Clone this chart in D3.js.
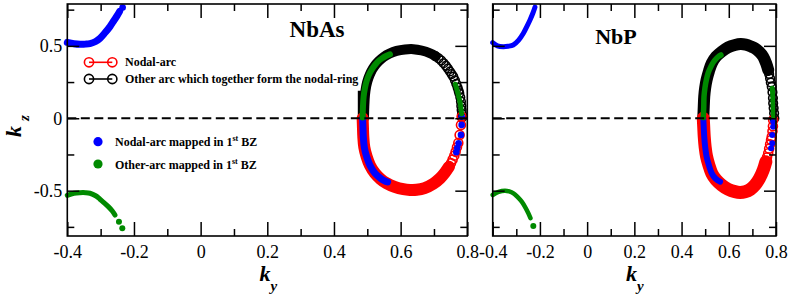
<!DOCTYPE html>
<html>
<head>
<meta charset="utf-8">
<script src="https://cdn.jsdelivr.net/npm/d3@7"></script>
<style>
  body { margin: 0; background: #fff; }
  svg { display: block; }
  svg text { font-family: "Liberation Serif", "Times New Roman", serif; }
</style>
</head>
<body>
<svg id="svg"></svg>
<script>
// ky, kz pairs

// tick values / labels
const xMajor = [-0.4, -0.2, 0, 0.2, 0.4, 0.6, 0.8];
const xMinor = [-0.3, -0.1, 0.1, 0.3, 0.5, 0.7];
const xTickLabels = ['-0.4', '-0.2', '0', '0.2', '0.4', '0.6', '0.8'];
const yMajor = [0.5, 0, -0.5];
const yMinor = [0.75, 0.25, -0.25, -0.75];
const yTickLabels = ['0.5', '0', '-0.5'];

// NbAs
const nbasBlackBand = [[0.490,0.0],[0.491,0.08],[0.493,0.16],[0.497,0.225],[0.503,0.275],[0.511,0.32],[0.521,0.358],[0.534,0.393],[0.549,0.423],[0.567,0.447],[0.588,0.465],[0.613,0.475],[0.638,0.477],[0.663,0.468],[0.688,0.449],[0.705,0.428]];
const nbasBlackOpen = [[0.705,0.428],[0.714,0.414],[0.722,0.398],[0.729,0.38],[0.736,0.362],[0.742,0.343],[0.748,0.323],[0.753,0.305],[0.758,0.287],[0.763,0.262],[0.767,0.238],[0.771,0.212],[0.774,0.19],[0.776,0.173],[0.779,0.145],[0.781,0.115],[0.782,0.085],[0.783,0.057],[0.784,0.03],[0.784,0.005]];
const nbasBlackStub = [[0.479,0.0],[0.479,0.19]];
const nbasRedBand = [[0.486,0.0],[0.487,-0.065],[0.488,-0.127],[0.491,-0.2],[0.498,-0.265],[0.508,-0.325],[0.523,-0.38],[0.540,-0.42],[0.558,-0.449],[0.582,-0.474],[0.608,-0.49],[0.628,-0.495],[0.648,-0.494],[0.672,-0.482],[0.698,-0.452],[0.718,-0.415],[0.733,-0.375],[0.745,-0.335]];
const nbasRedOpen = [[0.745,-0.335],[0.751,-0.31],[0.756,-0.285],[0.761,-0.258],[0.765,-0.232],[0.769,-0.2],[0.773,-0.17],[0.777,-0.115],[0.781,-0.046],[0.783,0.01]];
const nbasBlueBand = [[0.486,0.0],[0.487,-0.065],[0.488,-0.127],[0.491,-0.2],[0.498,-0.265],[0.508,-0.325],[0.523,-0.38],[0.540,-0.415],[0.552,-0.432],[0.561,-0.44]];
const nbasBlueDots = [[0.783,0.011],[0.783,-0.046],[0.781,-0.115],[0.774,-0.173],[0.770,-0.205],[0.767,-0.235]];
const nbasBlueCorner = [[-0.4,0.524],[-0.38,0.515],[-0.362,0.511],[-0.345,0.512],[-0.332,0.516],[-0.315,0.53],[-0.302,0.552],[-0.287,0.59],[-0.272,0.633],[-0.26,0.675],[-0.25,0.71],[-0.243,0.738]];
const nbasBlueEnd = [[-0.234,0.764]];
const nbasGreenBand = [[0.486,0.005],[0.487,0.08],[0.489,0.149],[0.493,0.21],[0.499,0.265],[0.508,0.315],[0.519,0.356],[0.531,0.39],[0.543,0.412],[0.556,0.43],[0.568,0.442]];
const nbasGreenRight = [[0.764,0.235],[0.768,0.205],[0.772,0.17],[0.776,0.135],[0.779,0.10],[0.781,0.065],[0.783,0.03]];
const nbasGreenCorner = [[-0.4,-0.532],[-0.38,-0.518],[-0.362,-0.514],[-0.345,-0.514],[-0.332,-0.518],[-0.315,-0.535],[-0.302,-0.559],[-0.29,-0.583],[-0.277,-0.61],[-0.265,-0.64],[-0.257,-0.668]];
const nbasGreenEnd = [[-0.245,-0.714],[-0.235,-0.760]];

// NbP
const nbpBlackBand = [[0.492,0.0],[0.494,0.08],[0.496,0.149],[0.500,0.21],[0.506,0.265],[0.516,0.325],[0.528,0.38],[0.546,0.425],[0.570,0.46],[0.597,0.49],[0.626,0.506],[0.650,0.512],[0.672,0.508],[0.695,0.495],[0.711,0.483],[0.730,0.458],[0.746,0.425],[0.758,0.38],[0.767,0.334]];
const nbpBlackOpen = [[0.767,0.334],[0.771,0.305],[0.775,0.275],[0.778,0.247],[0.782,0.218],[0.785,0.18],[0.787,0.14],[0.788,0.104],[0.790,0.07],[0.792,0.035],[0.793,0.0]];
const nbpRedBand = [[0.492,0.0],[0.494,-0.065],[0.496,-0.127],[0.500,-0.2],[0.506,-0.265],[0.516,-0.325],[0.528,-0.38],[0.546,-0.425],[0.570,-0.461],[0.597,-0.49],[0.626,-0.507],[0.648,-0.512],[0.669,-0.507],[0.692,-0.49],[0.711,-0.461],[0.730,-0.415],[0.746,-0.357],[0.757,-0.30]];
const nbpRedOpen = [[0.757,-0.30],[0.762,-0.27],[0.767,-0.242],[0.771,-0.21],[0.775,-0.18],[0.779,-0.15],[0.782,-0.127],[0.785,-0.09],[0.787,-0.055],[0.788,-0.012]];
const nbpBlueBand = [[0.492,0.0],[0.494,-0.065],[0.496,-0.127],[0.500,-0.2],[0.506,-0.265],[0.516,-0.325],[0.528,-0.38],[0.543,-0.415],[0.555,-0.43],[0.563,-0.438]];
const nbpBlueDots = [[0.788,-0.023],[0.788,-0.058],[0.784,-0.115],[0.784,-0.173],[0.779,-0.207]];
const nbpBlueCorner = [[-0.4,0.522],[-0.38,0.5],[-0.355,0.494],[-0.335,0.497],[-0.313,0.506],[-0.29,0.54],[-0.27,0.587],[-0.255,0.635],[-0.242,0.679],[-0.23,0.725],[-0.221,0.767]];
const nbpGreenBand = [[0.492,0.005],[0.494,0.08],[0.495,0.149],[0.499,0.21],[0.505,0.265],[0.513,0.315],[0.524,0.356],[0.536,0.39],[0.548,0.414],[0.558,0.428],[0.567,0.437]];
const nbpGreenRight = [[0.784,0.207],[0.786,0.17],[0.787,0.13],[0.788,0.09],[0.789,0.05],[0.790,0.01]];
const nbpGreenCorner = [[-0.4,-0.53],[-0.375,-0.508],[-0.348,-0.5],[-0.33,-0.505],[-0.312,-0.518],[-0.295,-0.543],[-0.277,-0.576],[-0.262,-0.615],[-0.249,-0.656],[-0.24,-0.69]];
const nbpGreenEnd = [[-0.228,-0.744]];

const width = 789;
const height = 300;
const RED = '#ff0000', BLACK = '#000000', BLUE = '#0000ff', GREEN = '#008a00';
const SERIF = '"Liberation Serif", "Times New Roman", serif';

const svg = d3.select('#svg')
  .attr('width', width)
  .attr('height', height);

// shared y scale
const yScale = d3.scaleLinear()
  .domain([-0.813, 0.789])
  .range([236, 4]);

const xLeft = d3.scaleLinear().domain([-0.4, 0.8]).range([67.3, 467.3]);
const xRight = d3.scaleLinear().domain([-0.4, 0.8]).range([492.7, 776]);

function band(g, xScale, pts, color, w, cap) {
  const line = d3.line()
    .x(d => xScale(d[0]))
    .y(d => yScale(d[1]))
    .curve(d3.curveCatmullRom);
  g.append('path')
    .datum(pts)
    .attr('d', line)
    .attr('fill', 'none')
    .attr('stroke', color)
    .attr('stroke-width', w)
    .attr('stroke-linecap', cap || 'round')
    .attr('stroke-linejoin', 'round');
}

function openCircles(g, xScale, pts, color, r) {
  g.append('g').selectAll('circle')
    .data(pts)
    .join('circle')
    .attr('cx', d => xScale(d[0]))
    .attr('cy', d => yScale(d[1]))
    .attr('r', r)
    .attr('fill', 'none')
    .attr('stroke', color)
    .attr('stroke-width', 1.6);
}

function dots(g, xScale, pts, color, r) {
  g.append('g').selectAll('circle')
    .data(pts)
    .join('circle')
    .attr('cx', d => xScale(d[0]))
    .attr('cy', d => yScale(d[1]))
    .attr('r', r)
    .attr('fill', color);
}

function drawAxes(xScale) {
  const [x0, x1] = xScale.range();
  const g = svg.append('g');

  // bottom with labels
  g.append('g')
    .attr('transform', 'translate(0,236)')
    .call(d3.axisBottom(xScale).tickValues(xMajor).tickSize(-14).tickSizeOuter(0).tickPadding(9)
      .tickFormat((d, i) => xTickLabels[i]));
  g.append('g').attr('transform', 'translate(0,236)')
    .call(d3.axisBottom(xScale).tickValues(xMinor).tickSize(-7).tickSizeOuter(0).tickFormat(''));

  // top mirror
  g.append('g').attr('transform', 'translate(0,4)')
    .call(d3.axisTop(xScale).tickValues(xMajor).tickSize(-14).tickSizeOuter(0).tickFormat(''));
  g.append('g').attr('transform', 'translate(0,4)')
    .call(d3.axisTop(xScale).tickValues(xMinor).tickSize(-7).tickSizeOuter(0).tickFormat(''));

  // left / right
  const leftAx = d3.axisLeft(yScale).tickValues(yMajor).tickSize(-12).tickSizeOuter(0).tickPadding(5);
  if (xScale === xLeft) leftAx.tickFormat((d, i) => yTickLabels[i]);
  else leftAx.tickFormat('');
  g.append('g').attr('transform', `translate(${x0},0)`).call(leftAx);
  g.append('g').attr('transform', `translate(${x0},0)`)
    .call(d3.axisLeft(yScale).tickValues(yMinor).tickSize(-7).tickSizeOuter(0).tickFormat(''));
  g.append('g').attr('transform', `translate(${x1},0)`)
    .call(d3.axisRight(yScale).tickValues(yMajor).tickSize(-12).tickSizeOuter(0).tickFormat(''));
  g.append('g').attr('transform', `translate(${x1},0)`)
    .call(d3.axisRight(yScale).tickValues(yMinor).tickSize(-7).tickSizeOuter(0).tickFormat(''));

  g.selectAll('.domain').remove();
  g.selectAll('g').attr('font-family', SERIF).attr('font-size', 18);
  g.selectAll('.tick text').attr('fill', '#000');
  g.selectAll('.tick line').attr('stroke', '#000').attr('stroke-width', 1.5);

  g.append('rect')
    .attr('x', x0).attr('y', 4)
    .attr('width', x1 - x0).attr('height', 232)
    .attr('fill', 'none')
    .attr('stroke', '#000')
    .attr('stroke-width', 1.6);
}

function dashedZero(xScale) {
  const [x0, x1] = xScale.range();
  svg.append('line')
    .attr('x1', x0).attr('x2', x1)
    .attr('y1', yScale(0)).attr('y2', yScale(0))
    .attr('stroke', '#000')
    .attr('stroke-width', 2.2)
    .attr('stroke-dasharray', '9,4.5');
}

// ---- NbAs panel ----
const gA = svg.append('g');
band(gA, xLeft, nbasBlackBand, BLACK, 10);
band(gA, xLeft, nbasBlackStub, BLACK, 5, 'butt');
openCircles(gA, xLeft, nbasBlackOpen, BLACK, 4.3);
band(gA, xLeft, nbasRedBand, RED, 12);
openCircles(gA, xLeft, nbasRedOpen, RED, 4.5);
dashedZero(xLeft);
band(gA, xLeft, nbasBlueBand, BLUE, 7);
dots(gA, xLeft, nbasBlueDots, BLUE, 3.3);
band(gA, xLeft, nbasBlueCorner, BLUE, 7);
dots(gA, xLeft, nbasBlueEnd, BLUE, 3.3);
band(gA, xLeft, nbasGreenBand, GREEN, 6);
band(gA, xLeft, nbasGreenRight, GREEN, 5);
band(gA, xLeft, nbasGreenCorner, GREEN, 5);
dots(gA, xLeft, nbasGreenEnd, GREEN, 3);

// ---- NbP panel ----
const gB = svg.append('g');
band(gB, xRight, nbpBlackBand, BLACK, 12);
openCircles(gB, xRight, nbpBlackOpen, BLACK, 4.3);
band(gB, xRight, nbpRedBand, RED, 13);
openCircles(gB, xRight, nbpRedOpen, RED, 4.5);
dashedZero(xRight);
band(gB, xRight, nbpBlueBand, BLUE, 6);
dots(gB, xRight, nbpBlueDots, BLUE, 3);
band(gB, xRight, nbpBlueCorner, BLUE, 5);
band(gB, xRight, nbpGreenBand, GREEN, 5.5);
band(gB, xRight, nbpGreenRight, GREEN, 5);
band(gB, xRight, nbpGreenCorner, GREEN, 4.5);
dots(gB, xRight, nbpGreenEnd, GREEN, 3);

drawAxes(xLeft);
drawAxes(xRight);

// panel titles
svg.append('text').attr('x', 317).attr('y', 36.5).attr('text-anchor', 'middle')
  .attr('font-size', 23).attr('font-weight', 'bold').text('NbAs');
svg.append('text').attr('x', 616).attr('y', 44).attr('text-anchor', 'middle')
  .attr('font-size', 22).attr('font-weight', 'bold').text('NbP');

// legend
const leg = svg.append('g').attr('font-weight', 'bold').attr('font-size', 12);
[[62.3, RED, 'Nodal-arc'], [79, BLACK, 'Other arc which together form the nodal-ring']].forEach(([ly, c, t]) => {
  leg.append('line').attr('x1', 89).attr('x2', 112.3).attr('y1', ly).attr('y2', ly)
    .attr('stroke', c).attr('stroke-width', 1.6);
  [89, 112.3].forEach(cx => leg.append('circle').attr('cx', cx).attr('cy', ly).attr('r', 4.6)
    .attr('fill', 'none').attr('stroke', c).attr('stroke-width', 1.6));
  leg.append('text').attr('x', 125).attr('y', ly + 4).text(t);
});
[[141.7, BLUE, 'Nodal-arc mapped in 1'], [164, GREEN, 'Other-arc mapped in 1']].forEach(([ly, c, t]) => {
  leg.append('circle').attr('cx', 98).attr('cy', ly).attr('r', 4.6).attr('fill', c);
  const tx = leg.append('text').attr('x', 115).attr('y', ly + 4.5).text(t);
  tx.append('tspan').attr('font-size', 8).attr('dy', -5).text('st');
  tx.append('tspan').attr('dy', 5).text(' BZ');
});

// axis labels
const kz = svg.append('text')
  .attr('transform', 'translate(21,137) rotate(-90)')
  .attr('font-size', 22).attr('font-weight', 'bold').attr('font-style', 'italic')
  .text('k');
kz.append('tspan').attr('font-size', 15).attr('dx', 5).attr('dy', 8).text('z');

[264.5, 631].forEach(cx => {
  const t = svg.append('text').attr('x', cx - 5).attr('y', 281)
    .attr('font-size', 22).attr('font-weight', 'bold').attr('font-style', 'italic')
    .text('k');
  t.append('tspan').attr('font-size', 15).attr('dy', 10).text('y');
});
</script>
</body>
</html>
